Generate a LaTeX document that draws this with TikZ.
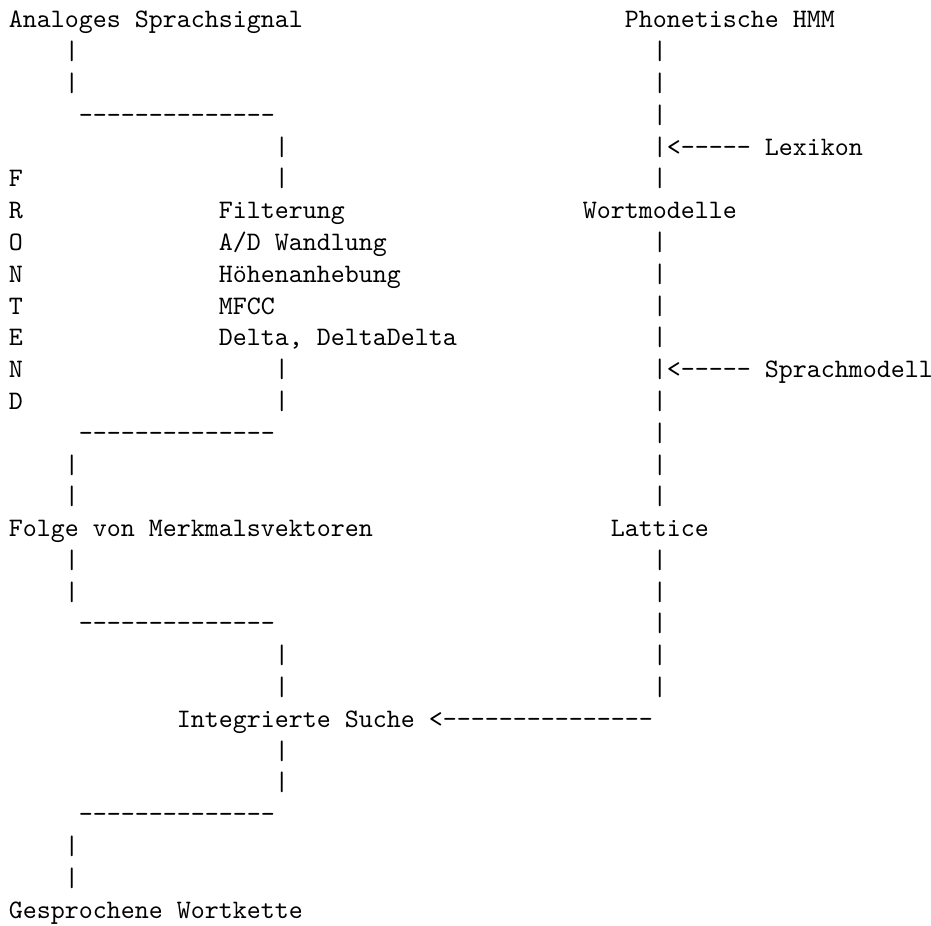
\documentclass[tikz,border=0pt]{standalone}
\usepackage{fontspec}
\newcommand\dashrun[1]{\foreach\i in {1,...,#1}{-\kern0pt}}
\tikzset{
  tt/.style={anchor=base west, inner sep=0pt, outer sep=0pt,
    font=\ttfamily\fontsize{10pt}{12pt}\selectfont\frenchspacing}
}
\begin{document}
\begin{tikzpicture}[x=5.25pt, y=-11.92pt]
\useasboundingbox (-3.3pt,10.5pt) rectangle (345.8pt,-336.7pt);
% row 0
\node[tt] (src)  at (0,0)  {Analoges Sprachsignal};
\node[tt] (hmm)  at (44,0) {Phonetische HMM};
% rows 1-2
\node[tt] (p1a) at (4,1)  {|};  \node[tt] (q1) at (46,1) {|};
\node[tt] (p2a) at (4,2)  {|};  \node[tt] (q2) at (46,2) {|};
% row 3
\node[tt] (d3)  at (5,3)  {\dashrun{14}}; \node[tt] (q3) at (46,3) {|};
% row 4
\node[tt] (p4)  at (19,4) {|};
\node[tt] (lex) at (46,4) {|<\dashrun{5} Lexikon};
% row 5
\node[tt] (fF)  at (0,5)  {F};  \node[tt] (p5) at (19,5) {|}; \node[tt] (q5) at (46,5) {|};
% row 6
\node[tt] (fR)  at (0,6)  {R};
\node[tt] (filt) at (15,6) {Filterung};
\node[tt] (wort) at (41,6) {Wortmodelle};
% row 7
\node[tt] (fO)  at (0,7)  {O};
\node[tt] (ad)  at (15,7) {A/D Wandlung};  \node[tt] (q7) at (46,7) {|};
% row 8
\node[tt] (fN1) at (0,8)  {N};
\node[tt] (hoeh) at (15,8) {Höhenanhebung}; \node[tt] (q8) at (46,8) {|};
% row 9
\node[tt] (fT)  at (0,9)  {T};
\node[tt] (mfcc) at (15,9) {MFCC};  \node[tt] (q9) at (46,9) {|};
% row 10
\node[tt] (fE)  at (0,10) {E};
\node[tt] (delta) at (15,10) {Delta, DeltaDelta}; \node[tt] (q10) at (46,10) {|};
% row 11
\node[tt] (fN2) at (0,11) {N};  \node[tt] (p11) at (19,11) {|};
\node[tt] (spm) at (46,11) {|<\dashrun{5} Sprachmodell};
% row 12
\node[tt] (fD)  at (0,12) {D};  \node[tt] (p12) at (19,12) {|}; \node[tt] (q12) at (46,12) {|};
% row 13
\node[tt] (d13) at (5,13) {\dashrun{14}}; \node[tt] (q13) at (46,13) {|};
% rows 14-15
\node[tt] (p14) at (4,14) {|};  \node[tt] (q14) at (46,14) {|};
\node[tt] (p15) at (4,15) {|};  \node[tt] (q15) at (46,15) {|};
% row 16
\node[tt] (folge) at (0,16) {Folge von Merkmalsvektoren};
\node[tt] (latt)  at (43,16) {Lattice};
% rows 17-18
\node[tt] (p17) at (4,17) {|};  \node[tt] (q17) at (46,17) {|};
\node[tt] (p18) at (4,18) {|};  \node[tt] (q18) at (46,18) {|};
% row 19
\node[tt] (d19) at (5,19) {\dashrun{14}}; \node[tt] (q19) at (46,19) {|};
% rows 20-21
\node[tt] (p20) at (19,20) {|}; \node[tt] (q20) at (46,20) {|};
\node[tt] (p21) at (19,21) {|}; \node[tt] (q21) at (46,21) {|};
% row 22
\node[tt] (such) at (12,22) {Integrierte Suche <\dashrun{15}};
% rows 23-24
\node[tt] (p23) at (19,23) {|};
\node[tt] (p24) at (19,24) {|};
% row 25
\node[tt] (d25) at (5,25) {\dashrun{14}};
% rows 26-27
\node[tt] (p26) at (4,26) {|};
\node[tt] (p27) at (4,27) {|};
% row 28
\node[tt] (out) at (0,28) {Gesprochene Wortkette};
\end{tikzpicture}
\end{document}
